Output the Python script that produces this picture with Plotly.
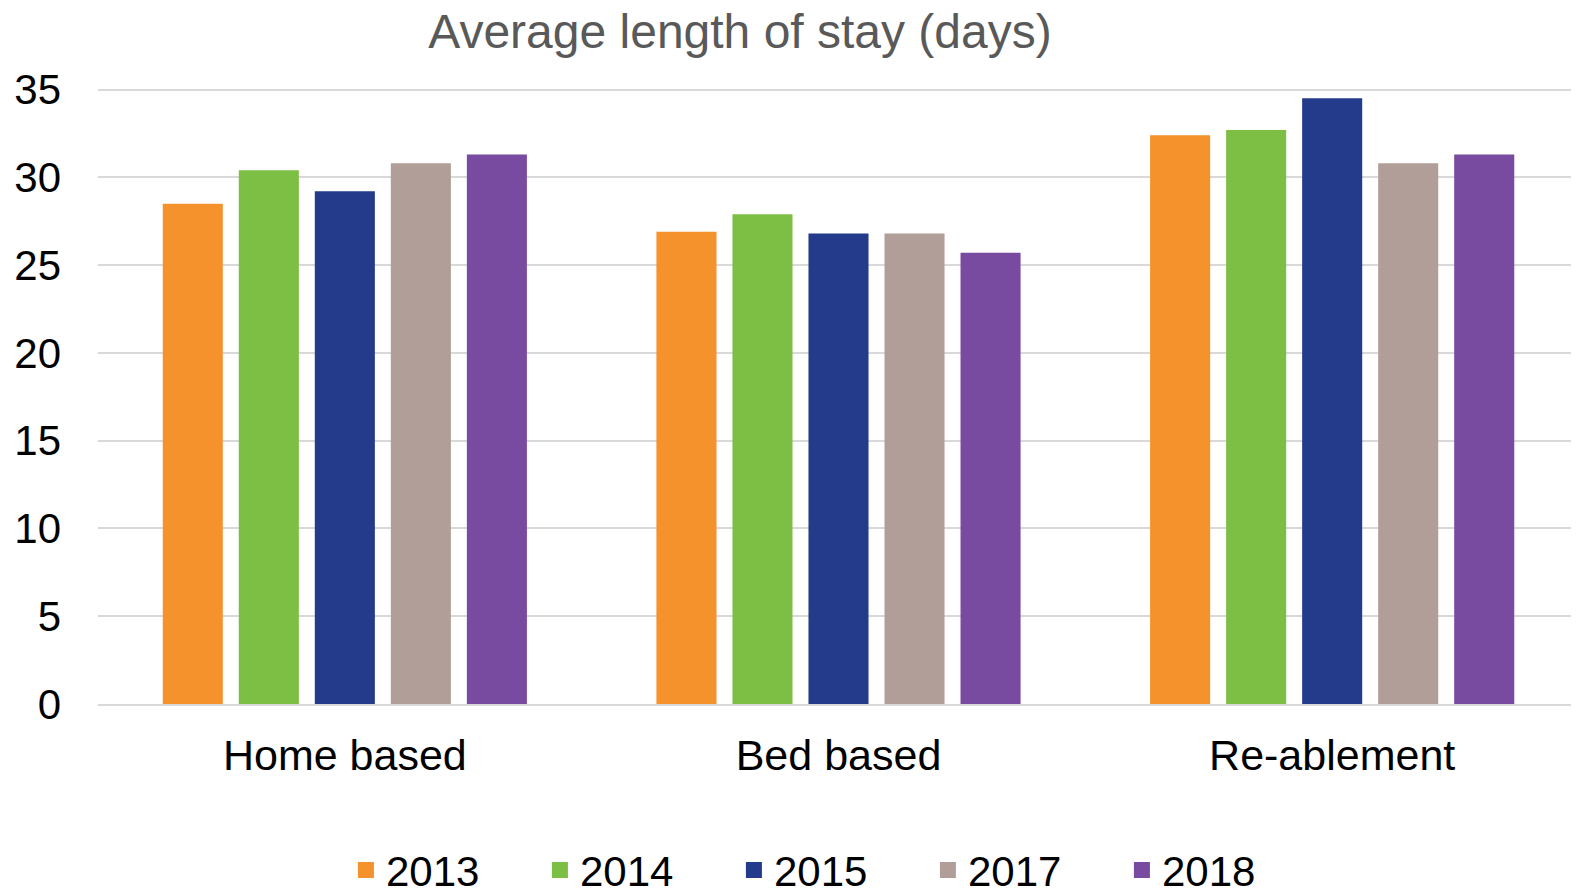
import plotly.graph_objects as go

categories = ["Home based", "Bed based", "Re-ablement"]
years = ["2013", "2014", "2015", "2017", "2018"]

stay_2013 = [28.5, 26.9, 32.4]
stay_2014 = [30.4, 27.9, 32.7]
stay_2015 = [29.2, 26.8, 34.5]
stay_2017 = [30.8, 26.8, 30.8]
stay_2018 = [31.3, 25.7, 31.3]

series = [stay_2013, stay_2014, stay_2015, stay_2017, stay_2018]
colors = ["#F5922B", "#7DBE45", "#243A8B", "#B29E98", "#784AA0"]

font_family = "Liberation Sans, Arial, sans-serif"

# the page body has an 8px margin, so the figure is 8px smaller than the window
W, H = 1571, 886

fig = go.Figure()
for year, vals, col in zip(years, series, colors):
    fig.add_trace(go.Bar(x=categories, y=vals, name=year, marker_color=col,
                         marker_line_width=0, showlegend=False))
    # legend-only marker so the swatch can be bigger than the default bar swatch
    fig.add_trace(go.Scatter(x=[None], y=[None], mode="markers", name=year,
                             marker=dict(symbol="square", size=16, color=col)))

fig.update_layout(
    width=W, height=H,
    paper_bgcolor="white", plot_bgcolor="white",
    margin=dict(l=90, r=0, t=78, b=190, autoexpand=False),
    barmode="group", bargap=0.23, bargroupgap=0.21,
    font=dict(family=font_family, color="black", size=42),
    title=dict(text="Average length of stay (days)", x=732 / W, xanchor="center",
               y=1 - 23 / H, yanchor="middle",
               font=dict(size=48, color="#595959", family=font_family)),
    legend=dict(orientation="h", x=0.1674, xanchor="left", y=-0.269, yanchor="middle",
                font=dict(size=42), entrywidth=149, entrywidthmode="pixels",
                itemclick=False),
)
fig.update_yaxes(range=[0, 35.2], tickvals=[0, 5, 10, 15, 20, 25, 30, 35],
                 showgrid=True, gridcolor="#D9D9D9", gridwidth=2,
                 zeroline=False, showline=False, ticks="", ticklabelstandoff=36,
                 tickfont=dict(size=42))
fig.update_xaxes(showline=True, linecolor="#D9D9D9", linewidth=2, ticks="",
                 tickfont=dict(size=43), ticklabelstandoff=12)

fig.write_html("out.html")
